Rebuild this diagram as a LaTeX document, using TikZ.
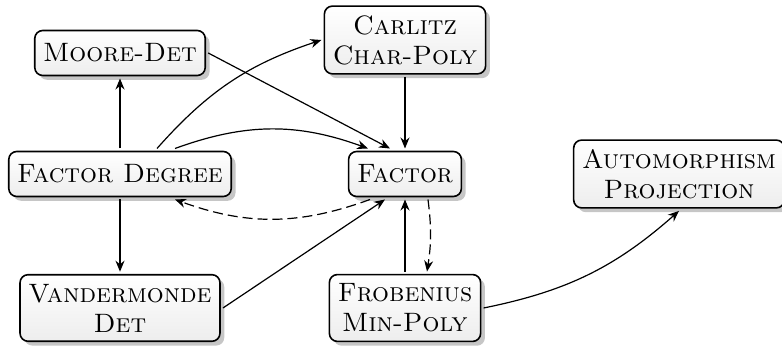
\documentclass[tikz,border=0pt]{standalone}
\usepackage{amsmath}
\usetikzlibrary{positioning,shadows,arrows.meta}

\tikzset{
  task/.style={draw, thick, rounded corners=4pt, align=center,
    font=\fontsize{13.3pt}{15pt}\selectfont\scshape,
    inner xsep=4.2pt, inner ysep=4.6pt, outer sep=1.5pt, minimum height=22.5pt,
    top color=white, bottom color=black!7,
    drop shadow={opacity=0.45}},
  dep/.style={-{Stealth[length=5.5pt,width=4.5pt]}, semithick},
  weak/.style={dep, dashed, dash pattern=on 5pt off 2.5pt},
}

\begin{document}
\begin{tikzpicture}[node distance=67pt and 142.5pt, on grid]
  \useasboundingbox (-60pt,-86pt) rectangle (331pt,87pt);
  % Define nodes
  \node[task]                      (fdeg)  {Factor Degree};
  \node[task, right=of fdeg]       (fac)   {Factor};
  \node[task, above=60.5pt of fdeg] (moore) {Moore-Det};
  \node[task, above=of fac]        (carl)  {Carlitz\\Char-Poly};
  \node[task, below=of fdeg]       (vdm)   {Vandermonde\\Det};
  \node[task, below=of fac]        (frob)  {Frobenius\\Min-Poly};
  \node[task, right=137pt of fac]  (auto)  {Automorphism\\Projection};

  % Connect the nodes
  \draw[dep] (fdeg) -- (moore);
  \draw[dep] ([xshift=18.5pt]fdeg.north) to[bend left=15] (carl.west);
  \draw[dep] ([xshift=27.5pt]fdeg.north) to[bend left=20] ([xshift=-18.5pt]fac.north);
  \draw[dep] (moore.east) -- ([xshift=-7.5pt]fac.north);
  \draw[dep] (carl) -- (fac);
  \draw[weak] ([xshift=-17.5pt]fac.south) to[bend left=20] ([xshift=27.5pt]fdeg.south);
  \draw[dep] (fdeg) -- (vdm);
  \draw[dep] (vdm.east) -- ([xshift=-10pt]fac.south);
  \draw[dep] (frob) -- (fac);
  \draw[weak] ([xshift=11.5pt]fac.south) to[bend left=8] ([xshift=11pt]frob.north);
  \draw[dep] (frob.east) to[bend right=15] (auto.south);
\end{tikzpicture}
\end{document}
